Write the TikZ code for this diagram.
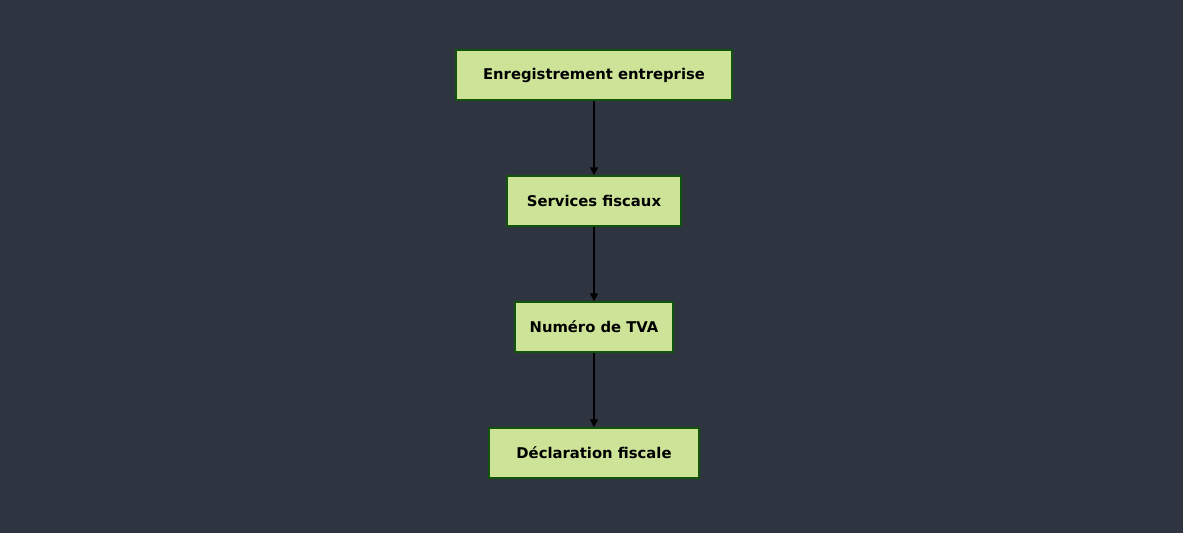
\documentclass[tikz,border=0pt]{standalone}
\usepackage{fontspec}
\setmainfont{DejaVu Sans}
\usetikzlibrary{arrows.meta}
\definecolor{bg}{HTML}{2E3440}
\definecolor{boxfill}{HTML}{CDE498}
\definecolor{boxline}{HTML}{13540C}
\tikzset{
  stepbox/.style={draw=boxline, line width=1.5pt, fill=boxfill, minimum height=50pt, inner sep=0pt, font=\fontsize{14.8}{17}\selectfont\bfseries, text=black},
  flow/.style={draw=black, line width=1.3pt, -{Triangle[length=8pt,width=8pt]}}
}
\begin{document}
\begin{tikzpicture}[x=1pt,y=-1pt]
\fill[bg] (0,0) rectangle (1183,533);
\useasboundingbox (0,0) rectangle (1183,533);
\node[stepbox, minimum width=276pt] (a) at (594,75) {Enregistrement entreprise};
\node[stepbox, minimum width=174pt] (b) at (594,201) {Services fiscaux};
\node[stepbox, minimum width=158pt] (c) at (594,327) {Numéro de TVA};
\node[stepbox, minimum width=210pt] (d) at (594,453) {Déclaration fiscale};
\draw[flow] (a) -- (b);
\draw[flow] (b) -- (c);
\draw[flow] (c) -- (d);
\end{tikzpicture}
\end{document}
